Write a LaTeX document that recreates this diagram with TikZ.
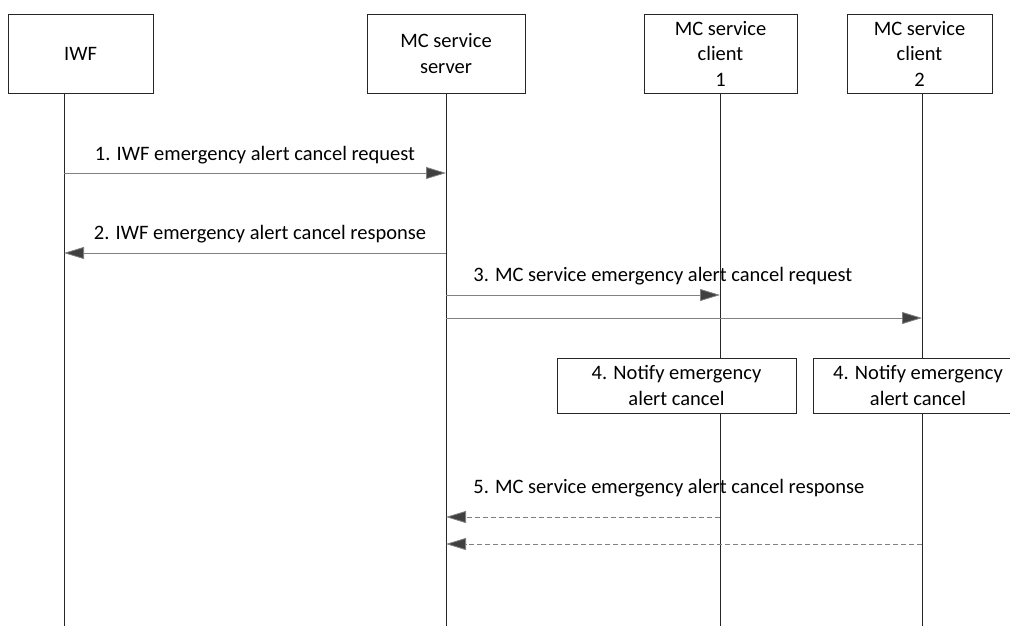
\documentclass[tikz,border=0pt]{standalone}
\usepackage{fontspec}
\setmainfont{Carlito}
\usepackage{tikz}
\usetikzlibrary{arrows.meta,positioning}
\definecolor{msggray}{HTML}{808080}
\definecolor{headgray}{HTML}{404040}

\begin{document}
\begin{tikzpicture}[x=1pt, y=-1pt, line width=0.8pt,
    entity/.style={draw=black!85, fill=white, align=center, inner sep=0pt,
                   minimum width=145pt, minimum height=79pt, font=\fontsize{20.5}{25.5}\selectfont},
    note/.style={draw=black!85, fill=white, align=center, inner sep=0pt,
                 minimum height=55pt, font=\fontsize{20.5}{25.5}\selectfont},
    msg/.style={draw=msggray, -{Triangle[length=20pt, width=12pt, fill=headgray]}},
    reply/.style={msg, dashed, dash pattern=on 5pt off 3pt},
    lab/.style={font=\fontsize{20.5}{25.5}\selectfont, inner sep=0pt}]
  \useasboundingbox (0,0) rectangle (1010,626);
  % the four parties
  \node[entity] (iwf) at (80.5,53.5) {IWF};
  \node[entity, minimum width=158pt] (srv) at (446,53.5) {MC service\\server};
  \node[entity, minimum width=153pt] (cl1) at (720.5,53.5) {MC service\\client\\1};
  \node[entity] (cl2) at (919.5,53.5) {MC service\\client\\2};
  % lifelines
  \coordinate (iwfend) at (64,626);
  \coordinate (srvend) at (446,626);
  \coordinate (cl1end) at (720,626);
  \coordinate (cl2end) at (922,626);
  \draw[black!85] (iwf.south -| iwfend) -- (iwfend);
  \draw[black!85] (srv.south) -- (srvend);
  \draw[black!85] (cl1.south -| cl1end) -- (cl1end);
  \draw[black!85] (cl2.south -| cl2end) -- (cl2end);
  % notify boxes on the client lifelines
  \node[note, minimum width=239pt] (nt1) at (676.5,385.5) {4. Notify emergency\\alert cancel};
  \node[note, minimum width=210pt] (nt2) at (918,385.5) {4. Notify emergency\\alert cancel};
  % 1 and 2: IWF to server and back
  \coordinate (m1a) at (64,173);  \coordinate (m1b) at (446,173);
  \draw[msg] (m1a) -- (m1b);
  \node[lab] (l1) at (255,155) {1. IWF emergency alert cancel request};
  \coordinate (m2a) at (446,253); \coordinate (m2b) at (64,253);
  \draw[msg] (m2a) -- (m2b);
  \node[lab] (l2) at (260,234) {2. IWF emergency alert cancel response};
  % 3: server to both clients
  \coordinate (m3a) at (446,295); \coordinate (m3b) at (720,295);
  \coordinate (m3c) at (446,318); \coordinate (m3d) at (922,318);
  \draw[msg] (m3a) -- (m3b);
  \draw[msg] (m3c) -- (m3d);
  \node[lab, anchor=west] (l3) at (473,276) {3. MC service emergency alert cancel request};
  % 5: both clients answer the server
  \coordinate (m5a) at (720,517); \coordinate (m5b) at (446,517);
  \coordinate (m5c) at (922,544); \coordinate (m5d) at (446,544);
  \draw[reply] (m5a) -- (m5b);
  \draw[reply] (m5c) -- (m5d);
  \node[lab, anchor=west] (l5) at (473,488) {5. MC service emergency alert cancel response};
\end{tikzpicture}
\end{document}
